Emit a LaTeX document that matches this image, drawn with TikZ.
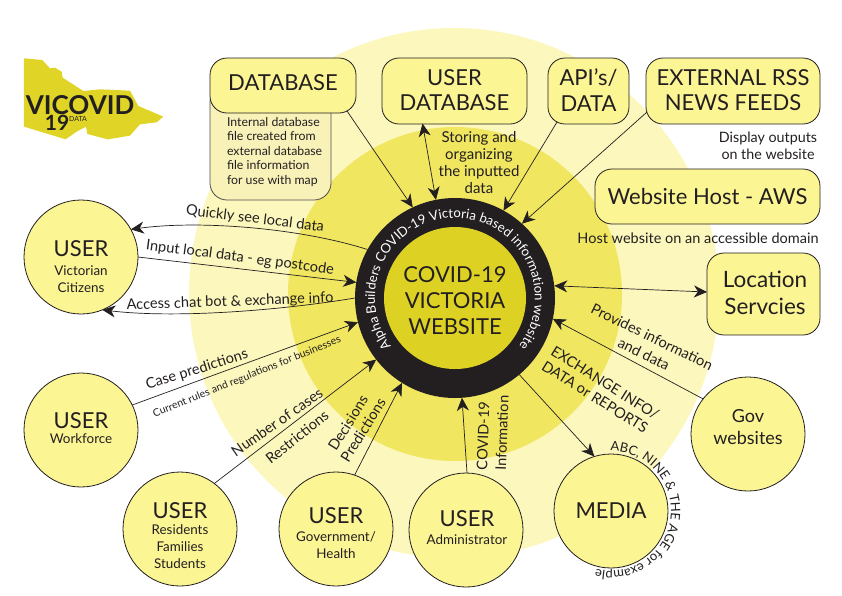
\documentclass[tikz,border=0pt]{standalone}
\usepackage{fontspec}
\setmainfont{Lato}
\usetikzlibrary{arrows.meta,calc,decorations.text}
\definecolor{ink}{HTML}{231F20}
\definecolor{bigc}{HTML}{FCF7BD}
\definecolor{midc}{HTML}{F0E660}
\definecolor{corec}{HTML}{DDD224}
\definecolor{logoc}{HTML}{E0D526}
\definecolor{nodec}{HTML}{FBF594}
\definecolor{subc}{HTML}{F8F1B8}
\newcommand{\fs}[1]{\fontsize{#1}{#1}\selectfont}
\newcommand{\fsl}[2]{\fontsize{#1}{#2}\selectfont}
\tikzset{
  ucirc/.style={circle,draw=ink,line width=0.8pt,fill=nodec,minimum size=114pt,inner sep=0pt,outer sep=0pt},
  ubox/.style={rectangle,rounded corners=17pt,draw=ink,line width=0.8pt,fill=nodec,inner sep=0pt,outer sep=0pt},
  txt/.style={text=ink,inner sep=0pt,outer sep=0pt,align=center},
  head/.style={txt,font=\fsl{22}{25.5}},
  sub/.style={txt,font=\fsl{13.4}{17}},
  lab/.style={txt,font=\fs{14.6}},
  conn/.style={draw=ink,line width=0.7pt,-{Stealth[length=13pt,width=12pt,inset=4pt]}},
  connb/.style={draw=ink,line width=0.7pt,{Stealth[length=13pt,width=12pt,inset=4pt]}-{Stealth[length=13pt,width=12pt,inset=4pt]}},
}
\begin{document}
\begin{tikzpicture}[x=1pt,y=-1pt]
\useasboundingbox (0,0) rectangle (842,595);
% background discs
\node[circle,fill=bigc,minimum size=530pt,inner sep=0pt] (big) at (454,293) {};
\node[circle,fill=midc,minimum size=334pt,inner sep=0pt] (mid) at (455,294) {};
% logo
\begin{scope}[shift={(0,30)},x=0.3333pt,y=-0.3333pt]
\fill[logoc] (72,85)--(127,90)--(150,115)--(165,113)--(185,125)--(188,143)--(250,183)--(300,178)--(390,182)--(415,228)--(490,260)--(470,277)--(420,283)--(390,317)--(323,328)--(262,312)--(258,290)--(230,305)--(197,328)--(72,290)--cycle;
\end{scope}
\node[txt,font=\bfseries\fs{26}] (logo1) at (80,105) {VICOVID};
\node[txt,font=\bfseries\fs{21}] (logo2) at (57,123) {19};
\node[txt,font=\fs{7}] (logo3) at (78,119) {DATA};
% website
\node[circle,fill=ink,minimum size=200pt,inner sep=0pt,outer sep=0pt] (web) at (455,298) {};
\node[circle,fill=corec,minimum size=142pt,inner sep=0pt,outer sep=0pt] (core) at (455,298) {};
\node[txt,font=\fsl{22}{26}] (coret) at (455,301) {COVID-19\\VICTORIA\\WEBSITE};
\path[decorate,decoration={text along path,text align=center,text color=white,
  text={|\fs{13.2}|Alpha Builders COVID-19 Victoria based information website}}]
  (web.center) ++(215:80pt) arc[start angle=215,end angle=-35,radius=80pt];
% boxes
\node[ubox,fill=subc,draw=ink!80,minimum width=121pt,minimum height=115pt] (dbsub) at (270.5,142.5) {};
\node[ubox,minimum width=146pt,minimum height=55pt] (db) at (283,85.5) {};
\node[head] (dbt) at (283,83) {DATABASE};
\node[txt,font=\fsl{12.3}{14.5},align=left] (dbn) at (227,152) [anchor=west] {Internal database\\file created from\\external database\\file information\\for use with map};
\node[ubox,minimum width=145pt,minimum height=66pt] (udb) at (454.5,91) {};
\node[head] (udbt) at (454.5,90) {USER\\DATABASE};
\node[ubox,minimum width=81pt,minimum height=66pt] (api) at (588.5,91) {};
\node[head] (apit) at (588.5,90) {API’s/\\DATA};
\node[ubox,minimum width=174pt,minimum height=66pt] (ext) at (733,91) {};
\node[head] (extt) at (733,90) {EXTERNAL RSS\\NEWS FEEDS};
\node[ubox,txt,font=\fs{22},minimum width=225pt,minimum height=55pt] (host) at (707.5,196.5) {Website Host - AWS};
\node[ubox,minimum width=113pt,minimum height=82pt] (loc) at (763.5,294) {};
\node[head,font=\fsl{22.5}{27}] (loct) at (765,292.5) {Location\\Servcies};
% circles
\node[ucirc] (vic) at (81,257) {};
\node[sub] (vict) at (81,267) {{\fs{22}USER}\\[2pt]Victorian\\Citizens};
\node[ucirc] (work) at (81,430) {};
\node[sub,font=\fsl{13.4}{14}] (workt) at (81,428) {{\fs{22}USER}\\[1pt]Workforce};
\node[ucirc] (res) at (180,529) {};
\node[sub] (rest) at (180,536) {{\fs{22}USER}\\[-1pt]Residents\\Families\\Students};
\node[ucirc] (gov) at (336,529) {};
\node[sub] (govt) at (336,533) {{\fs{22}USER}\\[1pt]Government/\\Health};
\node[ucirc] (adm) at (466,530) {};
\node[sub] (admt) at (467,527.5) {{\fs{22}USER}\\[1pt]Administrator};
\node[ucirc,head] (med) at (611,511) {MEDIA};
\node[ucirc] (gw) at (748,434) {};
\node[txt,font=\fsl{18}{22}] (gwt) at (748,427) {Gov\\websites};
% connectors
\draw[conn] ($(db.south)+(64,-2)$) -- (web.115);
\draw[connb] ($(udb.south)+(-32,-0.5)$) -- (web.101);
\draw[conn] ($(api.south)+(-31.5,-2)$) -- (web.61);
\draw[conn] ($(ext.west)+(1,21)$) -- (web.48);
\draw[conn] (web.151) .. controls (300,228) and (200,220) .. (vic.29);
\draw[conn] (vic.0) -- (web.171);
\draw[conn] (web.180) .. controls (270,312) and (170,318) .. (vic.292);
\draw[conn] (work.26) -- (web.194);
\draw[conn] (res.53) -- (web.218);
\draw[conn] (gov.71) -- (web.238);
\draw[conn] (adm.89) -- (web.274);
\draw[conn] (web.310) -- (med.107);
\draw[conn] (gw.142) -- (web.348);
\draw[connb] (web.7) -- ($(loc.west)+(0,-2)$);
% connector labels
\node[lab,rotate=-7] (l1) at (255,219) {Quickly see local data};
\node[lab,rotate=-7.5] (l2) at (240,258) {Input local data - eg postcode};
\node[lab,rotate=2] (l3) at (230,302) {Access chat bot \& exchange info};
\node[lab,rotate=17.5] (l4) at (197,370) {Case predictions};
\node[txt,font=\fs{10.5},rotate=22] (l5) at (247,377) {Current rules and regulations for businesses};
\node[lab,rotate=35] (l6) at (277,422) {Number of cases};
\node[lab,rotate=38.5] (l7) at (297,437) {Restrictions};
\node[lab,rotate=58] (l8) at (348,423) {Decisions};
\node[lab,rotate=58] (l9) at (363,430) {Predictions};
\node[lab,rotate=88] (l10) at (483,436) {COVID-19};
\node[lab,rotate=88] (l11) at (502,433) {Information};
\node[lab,rotate=-32] (l12) at (605,383) {EXCHANGE INFO/};
\node[lab,rotate=-32] (l13) at (595,397) {DATA or REPORTS};
\node[lab,rotate=-26] (l14) at (652,337) {Provides information};
\node[lab,rotate=-26] (l15) at (644,354) {and data};
\node[txt,font=\fsl{15}{17}] (l16) at (479,162.5) {Storing and\\organizing\\the inputted\\data};
\node[txt,font=\fsl{14.3}{16.5}] (l17) at (768,146) {Display outputs\\on the website};
\node[txt,font=\fs{14.5}] (l18) at (698,238) {Host website on an accessible domain};
\path[decorate,decoration={text along path,text align=center,text color=ink,
  text={|\fs{13}|ABC, NINE {\&} THE AGE for example}}]
  (med.center) ++(101:60pt) arc[start angle=101,end angle=-115,radius=60pt];
\end{tikzpicture}
\end{document}
